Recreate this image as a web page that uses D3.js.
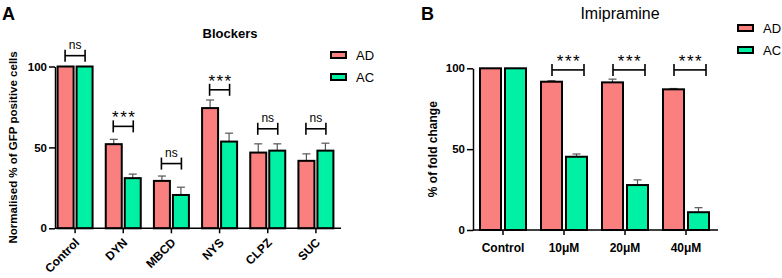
<!DOCTYPE html>
<html>
<head>
<meta charset="utf-8">
<script src="https://cdn.jsdelivr.net/npm/d3@7"></script>
<style>
  body { margin: 0; background: #fff; }
  svg { font-family: "Liberation Sans", Arial, sans-serif; }
  .axis path, .axis line { stroke: #000; stroke-width: 1.5; }
  .axis text { font-weight: bold; fill: #000; }
</style>
</head>
<body>
<svg id="chart" width="782" height="278"></svg>
<script>
// Panel A – Blockers
const blockCats = ['Control', 'DYN', 'MBCD', 'NYS', 'CLPZ', 'SUC'];
const blockAD = [100, 52, 29.3, 74.3, 46.8, 41.7];
const blockADerr = [0, 3, 3, 5, 5.4, 4.3];
const blockAC = [100, 31, 20.6, 53.6, 48, 48];
const blockACerr = [0, 2.5, 4.8, 5.2, 4.2, 4.6];
const blockSig = ['ns', '***', 'ns', '***', 'ns', 'ns'];
const blockSigLevel = [106.7, 63, 40, 85.6, 61.5, 61.5];

// Panel B – Imipramine
const imiCats = ['Control', '10μM', '20μM', '40μM'];
const imiAD = [100, 91.7, 91.3, 87];
const imiADerr = [0, 0.6, 2, 0.5];
const imiAC = [100, 45.3, 27.8, 11];
const imiACerr = [0, 1.7, 3.2, 2.8];
const imiSig = ['', '***', '***', '***'];
const imiSigLevel = [0, 99, 99, 99];

const yTicks = [0, 50, 100];
const seriesNames = ['AD', 'AC'];
const colors = {AD: '#fa7f7f', AC: '#00f0a4'};

const svg = d3.select('#chart');

function drawPanel(cfg) {
  const g = svg.append('g');
  const x = d3.scaleBand().domain(cfg.cats).range(cfg.xRange).paddingInner(0).paddingOuter(0);
  const y = d3.scaleLinear().domain([0, 100]).range(cfg.yRange);
  const bw = x.bandwidth();
  const barW = cfg.barW;

  // y axis
  g.append('g').attr('class', 'axis')
      .attr('transform', `translate(${cfg.axisX},0)`)
      .call(d3.axisLeft(y).tickValues(yTicks).tickSize(6).tickSizeOuter(0).tickPadding(2))
      .call(a => a.selectAll('text').style('font-size', '11.5px'));

  // bars
  const rows = cfg.cats.map((c, i) => ({c, i}));
  [['AD', cfg.ad, cfg.adErr, -1], ['AC', cfg.ac, cfg.acErr, 1]].forEach(([name, vals, errs, side]) => {
    const cx = d => x(d.c) + bw / 2 + side * (barW / 2 + cfg.gap / 2);
    // error bars
    const eb = g.append('g').attr('stroke', '#555').attr('stroke-width', 1.2);
    rows.filter(d => errs[d.i] > 0).forEach(d => {
      eb.append('line').attr('x1', cx(d)).attr('x2', cx(d))
        .attr('y1', y(vals[d.i])).attr('y2', y(vals[d.i] + errs[d.i]));
      eb.append('line').attr('x1', cx(d) - 4).attr('x2', cx(d) + 4)
        .attr('y1', y(vals[d.i] + errs[d.i])).attr('y2', y(vals[d.i] + errs[d.i]));
    });
    g.selectAll('.bar-' + name).data(rows).join('rect')
      .attr('x', d => cx(d) - barW / 2)
      .attr('width', barW)
      .attr('y', d => y(vals[d.i]))
      .attr('height', d => y(0) - y(vals[d.i]))
      .attr('fill', colors[name])
      .attr('stroke', '#000')
      .attr('stroke-width', 2);
  });

  // x axis
  const xa = g.append('g').attr('class', 'axis')
      .attr('transform', `translate(0,${y(0)})`);
  xa.append('line').attr('x1', cfg.axisX).attr('x2', cfg.axisEnd).attr('stroke', '#000').attr('stroke-width', 1.5);
  xa.selectAll('.tk').data(cfg.cats).join('line')
      .attr('x1', d => x(d) + bw / 2).attr('x2', d => x(d) + bw / 2)
      .attr('y1', 0).attr('y2', 5).attr('stroke', '#000').attr('stroke-width', 1.5);
  const lbl = xa.selectAll('.lbl').data(cfg.cats).join('text')
      .attr('font-weight', 'bold').attr('font-size', cfg.xFont).attr('fill', '#000')
      .text(d => d);
  if (cfg.rotate) {
    lbl.attr('text-anchor', 'end')
       .attr('transform', d => `translate(${x(d) + bw / 2 + 5},${15}) rotate(-45)`);
  } else {
    lbl.attr('text-anchor', 'middle').attr('x', d => x(d) + bw / 2).attr('y', 22);
  }

  // significance brackets
  rows.filter(d => cfg.sig[d.i]).forEach(d => {
    const c = x(d.c) + bw / 2 + cfg.brOff;
    const yy = y(cfg.sigLevel[d.i]);
    const h = cfg.brW / 2;
    const sg = g.append('g').attr('stroke', '#000').attr('stroke-width', 1.6);
    sg.append('line').attr('x1', c - h).attr('x2', c + h).attr('y1', yy).attr('y2', yy);
    sg.append('line').attr('x1', c - h).attr('x2', c - h).attr('y1', yy - 6).attr('y2', yy + 6);
    sg.append('line').attr('x1', c + h).attr('x2', c + h).attr('y1', yy - 6).attr('y2', yy + 6);
    const star = cfg.sig[d.i] === '***';
    g.append('text').attr('x', c + (star ? 1 : 0)).attr('y', star ? yy - 3 : yy - 7)
      .attr('text-anchor', 'middle')
      .attr('font-size', star ? 17 : 12)
      .attr('letter-spacing', star ? 1.5 : 0)
      .text(cfg.sig[d.i]);
  });

  // y title
  g.append('text')
      .attr('transform', `translate(${cfg.yTitleX},${(cfg.yRange[0] + cfg.yRange[1]) / 2}) rotate(-90)`)
      .attr('text-anchor', 'middle').attr('font-weight', 'bold').attr('font-size', cfg.yTitleFont)
      .text(cfg.yTitle);

  // legend
  seriesNames.forEach((n, i) => {
    g.append('rect').attr('x', cfg.legX).attr('y', cfg.legY + i * 22 - 3)
      .attr('width', 15).attr('height', 6)
      .attr('fill', colors[n]).attr('stroke', '#000').attr('stroke-width', 2);
    g.append('text').attr('x', cfg.legX + 25).attr('y', cfg.legY + i * 22 + 5)
      .attr('font-size', 13).text(n);
  });
}

drawPanel({
  cats: blockCats, ad: blockAD, adErr: blockADerr, ac: blockAC, acErr: blockACerr,
  sig: blockSig, sigLevel: blockSigLevel,
  xRange: [51, 340], yRange: [228.3, 66.5], axisX: 55, axisEnd: 341,
  barW: 16, gap: 3, brW: 20, brOff: 0, rotate: true, xFont: 12,
  yTitle: 'Normalised % of GFP positive cells', yTitleX: 17, yTitleFont: 11.5,
  legX: 331, legY: 55
});

drawPanel({
  cats: imiCats, ad: imiAD, adErr: imiADerr, ac: imiAC, acErr: imiACerr,
  sig: imiSig, sigLevel: imiSigLevel,
  xRange: [472.5, 716.5], yRange: [230, 68.3], axisX: 473, axisEnd: 718,
  barW: 21, gap: 4, brW: 32, brOff: 4, rotate: false, xFont: 12,
  yTitle: '% of fold change', yTitleX: 437, yTitleFont: 12,
  legX: 738, legY: 28
});

// titles and panel letters
svg.append('text').attr('x', 230).attr('y', 38).attr('text-anchor', 'middle')
   .attr('font-weight', 'bold').attr('font-size', 13).text('Blockers');
svg.append('text').attr('x', 620).attr('y', 19).attr('text-anchor', 'middle')
   .attr('font-size', 16).text('Imipramine');
svg.append('text').attr('x', 2).attr('y', 20).attr('font-weight', 'bold').attr('font-size', 18).text('A');
svg.append('text').attr('x', 421).attr('y', 20).attr('font-weight', 'bold').attr('font-size', 18).text('B');
</script>
</body>
</html>
